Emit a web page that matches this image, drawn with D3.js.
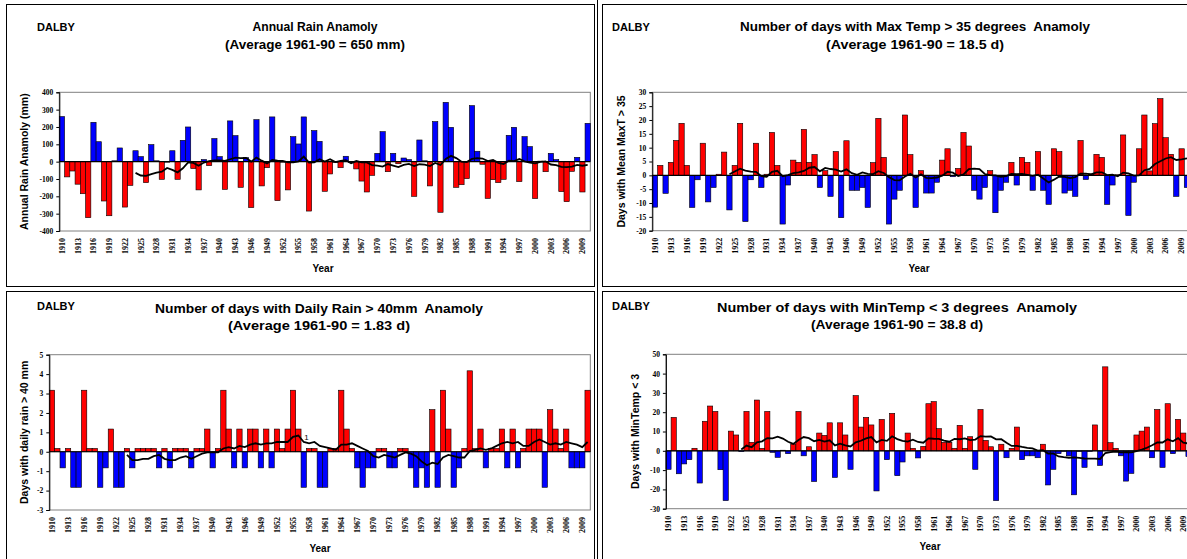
<!DOCTYPE html>
<html lang="en">
<head>
  <meta charset="UTF-8" />
  <title>DALBY climate anomalies</title>
  <script src="https://cdn.jsdelivr.net/npm/d3@7"></script>
  <style>
    html, body { margin: 0; padding: 0; background: #fff; overflow: hidden; }
    svg { display: block; }
    .ttl { font-family: "Liberation Sans", Arial, sans-serif; font-weight: bold; fill: #000; white-space: pre; }
    .tick { font-family: "Liberation Serif", "Times New Roman", serif; font-weight: bold; fill: #000; }
  </style>
</head>
<body>
<script>
// ------ Data ------
const years = d3.range(1910, 2011);
const yearTicks = d3.range(1910, 2011, 3);

// Annual rain anomaly (mm), average 1961-90 = 650 mm
const rainAnom = [260, -88, -54, -130, -185, -323, 227, 115, -227, -312,
  5, 79, -262, -137, 63, 29, -121, 98, 5, -102,
  -3, 63, -102, 123, 200, -40, -163, 12, -23, 133,
  29, -160, 235, 150, -148, 23, -265, 242, -140, -35,
  258, -225, -3, -163, 144, 102, 258, -285, 179, 117,
  -171, -71, -5, -35, 31, -5, -42, -112, -175, -79,
  48, 173, -58, 48, -12, 21, 12, -200, 125, 5,
  -140, 231, -292, 342, 198, -148, -133, -98, 323, 60,
  -15, -212, -104, -121, -102, 152, 198, -115, 144, 87,
  -213, 3, -58, 48, 12, -173, -231, -56, 25, -175, 221];

// Days with max temp > 35 anomaly, average 18.5 d
const hotDays = [-11.5, 3.6, -6.5, 4.7, 12.6, 18.8, 3.6, -11.6, -1.6, 11.6,
  -9.6, -4.4, 0.4, 8.4, -12.5, 3.6, 18.8, -16.7, -1.6, 11.6,
  -4.4, 0.4, 15.5, 3.6, -17.6, -3.5, 5.5, 4.7, 16.6, 4.7,
  7.5, -4.4, 1.7, -7.6, 8.6, -15.3, 12.5, -5.4, -5.4, -4.4,
  -11.6, 4.6, 20.6, 6.5, -17.6, -8.6, -5.4, 21.8, 7.5, -11.6,
  1.7, -6.4, -6.4, -2.5, 5.5, 9.6, -0.5, 2.5, 15.5, 10.6,
  -5.4, -8.6, -4.4, 1.7, -13.5, -5.4, -2.5, 4.7, -3.5, 6.5,
  4.7, -5.4, 8.6, -5.4, -10.5, 9.6, 8.6, -6.4, -5.4, -7.6,
  12.6, -1.5, 0.5, 7.6, 6.5, -10.5, -3.5, 0.2, 14.6, -14.5,
  -2.5, 9.6, 21.8, 1.6, 18.7, 27.7, 13.6, 7.6, -7.6, 9.6, -4.4];

// Days with daily rain > 40 mm anomaly, average 1.83 d
const wetDays = [3.17, 0.17, -0.83, 0.17, -1.83, -1.83, 3.17, 0.17, 0.17, -1.83,
  -0.83, 1.17, -1.83, -1.83, 0.17, -0.83, 0.17, 0.17, 0.17, 0.17,
  -0.83, 0.17, -0.83, 0.17, 0.17, 0.17, -0.83, 0.17, 0.17, 1.17,
  -0.83, 0.17, 3.17, 1.17, -0.83, 1.17, -0.83, 1.17, 1.17, -0.83,
  1.17, -0.83, 1.17, 0.17, 1.17, 3.17, 1.17, -1.83, 0.17, 0.17,
  -1.83, -1.83, 0.17, 0.17, 3.17, 1.17, 0.17, -0.83, -1.83, -0.83,
  -0.83, 0.17, 0.17, -0.83, -0.83, 0.17, 0.17, -0.83, -1.83, -0.83,
  -1.83, 2.17, -1.83, 3.17, 1.17, -1.83, -0.83, 0.17, 4.17, 0.17,
  1.17, -0.83, 0.17, 0.17, 1.17, -0.83, 1.17, -0.83, 0.17, 1.17,
  1.17, 1.17, -1.83, 2.17, 1.17, 0.17, 1.17, -0.83, -0.83, -0.83, 3.17];

// Days with min temp < 3 anomaly, average 38.8 d
const coldDays = [-9.6, 17.3, -11.9, -6.8, -4.6, 1.3, -16.7, 15.3, 23.2, 20.4,
  -9.8, -25.8, 10.2, 8.2, -0.4, 20.4, 4.4, 26.3, 1.3, 20.4,
  -0.8, -3.4, 0.3, -1.5, 3.5, 20.4, -2.6, 2.1, -15.9, 9.2,
  8.0, 14.5, -13.8, 14.5, 8.2, -9.6, 28.6, 12.3, 17.3, 13.4,
  -20.8, 16.3, -4.6, 19.4, -12.9, -5.8, 9.2, 1.3, -3.7, 2.3,
  24.4, 25.5, 11.5, 4.4, 4.4, 1.3, 13.2, 1.3, 7.3, -9.6,
  21.4, 5.4, 2.1, -25.8, 3.4, -3.6, 1.3, 12.3, -4.6, -2.6,
  -2.6, -3.6, 3.4, -17.7, -9.6, -1.5, -0.3, -2.6, -22.8, -0.3,
  -8.6, -0.3, 13.4, -7.6, 43.5, 4.2, 1.3, -2.6, -15.7, -11.7,
  8.2, 10.2, 12.3, -3.6, 21.4, -8.6, 24.4, -1.5, 16.3, 9.2, -3];

const maPeriod = 15;   // Excel "15 per. Mov. Avg." trendline

// ------ Panel layout ------
// titleW: rendered widths of the two title lines, matched to the picture
const panels = [
  { values: rainAnom, posColor: "#0000FF", negColor: "#FF0000",
    box: { x0: 59.3, x1: 590.3, y0: 92.3, y1: 231 }, domain: [-400, 400], step: 100,
    title: ["Annual Rain Anamoly", "(Average 1961-90 = 650 mm)"], titleW: [125, 180], tx: 315, ty: [31, 49],
    dalby: [37, 31], yTitle: "Annual Rain Anamoly (mm)", ytx: 24, yearXY: [323, 272] },
  { values: hotDays, posColor: "#FF0000", negColor: "#0000FF",
    box: { x0: 652.3, x1: 1189.6, y0: 92.3, y1: 230.7 }, domain: [-20, 30], step: 5,
    title: ["Number of days with Max Temp > 35 degrees  Anamoly", "(Average 1961-90 = 18.5 d)"], titleW: [350, 178], tx: 915, ty: [31, 49],
    dalby: [612, 31], yTitle: "Days with Mean MaxT > 35", ytx: 621, yearXY: [919, 272] },
  { values: wetDays, posColor: "#FF0000", negColor: "#0000FF",
    box: { x0: 49.3, x1: 590.3, y0: 354.7, y1: 510 }, domain: [-3, 5], step: 1,
    title: ["Number of days with Daily Rain > 40mm  Anamoly", "(Average 1961-90 = 1.83 d)"], titleW: [328, 182], tx: 319, ty: [313, 330],
    dalby: [37, 310], yTitle: "Days with daily rain > 40 mm", ytx: 24, yearXY: [320, 552] },
  { values: coldDays, posColor: "#FF0000", negColor: "#0000FF",
    box: { x0: 665.9, x1: 1191.1, y0: 354.3, y1: 508.7 }, domain: [-30, 50], step: 10,
    title: ["Number of days with MinTemp < 3 degrees  Anamoly", "(Average 1961-90 = 38.8 d)"], titleW: [360, 172], tx: 897, ty: [312, 329],
    dalby: [612, 310], yTitle: "Days with MinTemp < 3", ytx: 635, yearXY: [930, 550] }
];

const W = 1187, H = 559;
const svg = d3.select("body").append("svg").attr("width", W).attr("height", H);

// ------ Outer frames ------
const frames = [[6.5, 4.5, 588, 282], [6.5, 291.5, 588, 280], [602.5, 4.5, 600, 282], [602.5, 291.5, 600, 280]];
svg.selectAll("rect.frame").data(frames).enter().append("rect")
  .attr("class", "frame")
  .attr("x", d => d[0]).attr("y", d => d[1]).attr("width", d => d[2]).attr("height", d => d[3])
  .attr("fill", "none").attr("stroke", "#000").attr("stroke-width", 1);
svg.append("line").attr("x1", 597.5).attr("x2", 597.5).attr("y1", 0).attr("y2", H)
  .attr("stroke", "#000").attr("stroke-width", 1);

panels.forEach(p => {
  const b = p.box;
  const g = svg.append("g");
  const x = d3.scaleBand().domain(years).range([b.x0, b.x1]).padding(0);
  const y = d3.scaleLinear().domain(p.domain).range([b.y1, b.y0]);

  // plot area border
  g.append("rect")
    .attr("x", b.x0).attr("y", b.y0).attr("width", b.x1 - b.x0).attr("height", b.y1 - b.y0)
    .attr("fill", "none").attr("stroke", "#808080").attr("stroke-width", 1);

  // bars
  g.selectAll("rect.bar").data(p.values).enter().append("rect")
    .attr("class", "bar")
    .attr("x", (d, i) => x(years[i]))
    .attr("width", x.bandwidth())
    .attr("y", d => y(Math.max(0, d)))
    .attr("height", d => Math.abs(y(d) - y(0)))
    .attr("fill", d => d >= 0 ? p.posColor : p.negColor)
    .attr("stroke", "#000").attr("stroke-width", 0.6);

  // zero line
  g.append("line")
    .attr("x1", b.x0).attr("x2", b.x1).attr("y1", y(0)).attr("y2", y(0))
    .attr("stroke", "#000").attr("stroke-width", 1.2);

  // 15 year moving average trendline
  const ma = p.values.map((v, i) => i < maPeriod - 1 ? null : d3.mean(p.values.slice(i - maPeriod + 1, i + 1)));
  const line = d3.line()
    .defined(d => d !== null)
    .x((d, i) => x(years[i]) + x.bandwidth() / 2)
    .y(d => y(d));
  g.append("path").datum(ma)
    .attr("d", line)
    .attr("fill", "none").attr("stroke", "#000").attr("stroke-width", 1.8);

  // value axis
  const yAxis = d3.axisLeft(y)
    .tickValues(d3.range(p.domain[0], p.domain[1] + p.step / 2, p.step))
    .tickFormat(d => String(d)).tickSize(3).tickPadding(3);
  const ya = g.append("g").attr("transform", `translate(${b.x0},0)`).call(yAxis);
  ya.select(".domain").attr("stroke", "#000");
  ya.selectAll("text").attr("class", "tick").style("font-size", "7.5px")
    .attr("font-family", null);

  // category labels (every 3 years, rotated)
  g.selectAll("text.yr").data(yearTicks).enter().append("text")
    .attr("class", "tick")
    .attr("text-anchor", "end")
    .attr("transform", d => `translate(${x(d) + x.bandwidth() / 2},${b.y1 + 7}) rotate(-90)`)
    .attr("dy", "0.35em")
    .style("font-size", "8px")
    .text(d => d);

  // titles
  g.append("text").attr("class", "ttl").attr("x", p.dalby[0]).attr("y", p.dalby[1])
    .style("font-size", "11px").text("DALBY");
  p.title.forEach((t, k) => {
    g.append("text").attr("class", "ttl").attr("x", p.tx).attr("y", p.ty[k])
      .attr("text-anchor", "middle").style("font-size", "12px")
      .attr("textLength", p.titleW[k]).attr("lengthAdjust", "spacingAndGlyphs")
      .text(t);
  });
  g.append("text").attr("class", "ttl")
    .attr("transform", `translate(${p.ytx},${(b.y0 + b.y1) / 2}) rotate(-90)`)
    .attr("text-anchor", "middle").attr("dy", "0.35em")
    .style("font-size", "10.5px").text(p.yTitle);
  g.append("text").attr("class", "ttl").attr("x", p.yearXY[0]).attr("y", p.yearXY[1])
    .attr("text-anchor", "middle").style("font-size", "10px").text("Year");
});

// stray data label on the daily rain trendline
svg.append("text").attr("class", "ttl").attr("x", 306.5).attr("y", 439.5)
  .attr("text-anchor", "middle").style("font-size", "8px").style("font-weight", "normal").text("1");
</script>
</body>
</html>
